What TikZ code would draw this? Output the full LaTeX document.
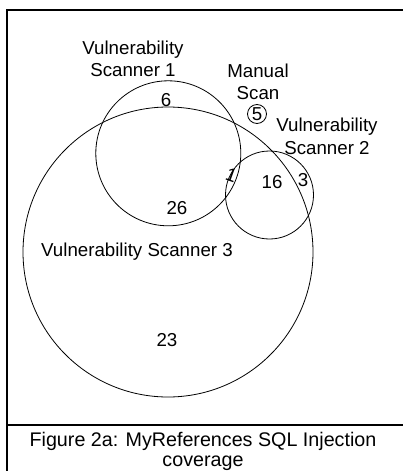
\documentclass[tikz,border=0pt]{standalone}
\usepackage{fontspec}
\setmainfont{Liberation Sans}
\begin{document}
\begin{tikzpicture}[x=1pt,y=-1pt,
  frameline/.style={line width=2pt},
  venn/.style={draw,circle,inner sep=0pt,line width=0.8pt},
  lbl/.style={inner sep=0pt,font=\fontsize{18.7}{22.5}\selectfont,align=center},
  captxt/.style={inner sep=0pt,font=\fontsize{19.7}{20.5}\selectfont,align=center}]
\useasboundingbox (0,0) rectangle (403,471);
% frame
\coordinate (tl) at (7,10);
\coordinate (tr) at (403,10);
\coordinate (bl) at (7,471);
\coordinate (dl) at (7,424.5);
\coordinate (dr) at (403,424.5);
\draw[frameline] (tr) -- (tl) -- (bl);
\draw[frameline] (dl) -- (dr);
% circles
\node[venn,minimum size=290pt] (c3) at (168,252) {};
\node[venn,minimum size=145pt] (c1) at (168.3,153.3) {};
\node[venn,minimum size=88pt] (c2) at (269.5,195) {};
\node[venn,minimum size=19pt,inner sep=0pt] (m) at (257,114) {};
% labels
\node[lbl] (l1) at (133,58.9) {Vulnerability\\Scanner 1};
\node[lbl] (lm) at (258,81.9) {Manual\\Scan};
\node[lbl] (l2) at (327,136.3) {Vulnerability\\Scanner 2};
\node[lbl,anchor=base] (l3) at (137,256.7) {Vulnerability Scanner 3};
\node[lbl] (n6) at (166,100) {6};
\node[lbl] (n5) at (m) {5};
\node[lbl,rotate=-20] (n1) at (231.5,175) {1};
\node[lbl] (n16) at (272,182.5) {16};
\node[lbl] (n3) at (303,180) {3};
\node[lbl] (n26) at (177,208.5) {26};
\node[lbl] (n23) at (167,340) {23};
\node[captxt,anchor=base] (capt) at (203,466.5) {Figure 2a: MyReferences SQL Injection\\coverage};
\end{tikzpicture}
\end{document}
